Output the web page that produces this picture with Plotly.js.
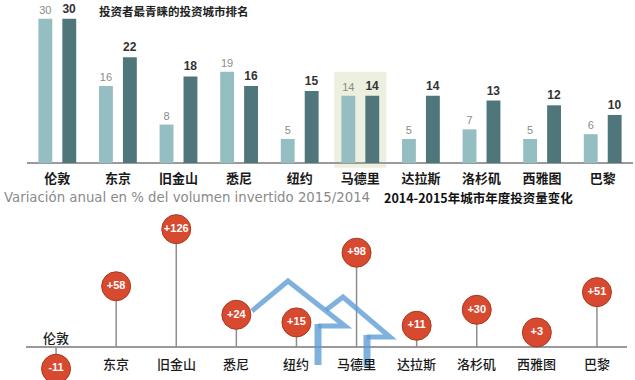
<!DOCTYPE html>
<html><head><meta charset="utf-8">
<script src="https://cdn.plot.ly/plotly-3.0.1.min.js"></script>
<style>html,body{margin:0;padding:0;background:#fff}#chart{width:635px;height:380px}</style>
</head><body><div id="chart"></div>
<script>
// ---- data ----
const cities = ['伦敦','东京','旧金山','悉尼','纽约','马德里','达拉斯','洛杉矶','西雅图','巴黎'];
const rank2014 = [30,16,8,19,5,14,5,7,5,6];
const rank2015 = [30,22,18,16,15,14,14,13,12,10];
const change = [-11,58,126,24,15,98,11,30,3,51];
const topTitle = '投资者最青睐的投资城市排名';
const subtitleEs = 'Variación anual en % del volumen invertido 2015/2014';
const subtitleZh = '2014-2015年城市年度投资量变化';
const highlightCity = '马德里';

// ---- helpers / styling ----
const W = 635, H = 380;
const px = v => v / W;
const py = v => 1 - v / H;
const circleLift = 14.6;  // lift of the circle beyond the stem end (axis units)
const cjk = '"Noto Sans CJK SC", "Noto Sans", sans-serif';
const latin = '"Liberation Sans", Arial, sans-serif';

const lifted = change.map(v => v + Math.sign(v) * circleLift);
const stemX = [], stemY = [];
cities.forEach((c, i) => { stemX.push(c, c, null); stemY.push(0, lifted[i], null); });
const changeText = change.map(v => (v > 0 ? '+' : '') + v);

const traces = [
  {type:'bar', x:cities, y:rank2014, xaxis:'x', yaxis:'y',
   marker:{color:'#95bec3'}, texttemplate:'%{y}', textposition:'outside',
   textfont:{family:latin, size:11, color:'#8a8a8a'}, cliponaxis:false, constraintext:'none', hoverinfo:'skip'},
  {type:'bar', x:cities, y:rank2015, xaxis:'x', yaxis:'y',
   marker:{color:'#4f767b'}, texttemplate:'%{y}', textposition:'outside',
   textfont:{family:latin, size:12, color:'#333', weight:'bold'}, cliponaxis:false, constraintext:'none', hoverinfo:'skip'},
  {type:'scatter', mode:'lines', x:stemX, y:stemY, xaxis:'x2', yaxis:'y2',
   line:{color:'#8e8e8e', width:1.5}, hoverinfo:'skip', cliponaxis:false},
  {type:'scatter', mode:'markers+text', x:cities, y:lifted, xaxis:'x2', yaxis:'y2',
   text:changeText, textposition:'middle center',
   textfont:{family:latin, size:11, color:'#ffffff', weight:'bold'},
   marker:{size:29, color:'#d84a30', line:{color:'#a8391f', width:1}}, cliponaxis:false, hoverinfo:'skip'}
];

const hi = cities.indexOf(highlightCity);
const arrowColor = 'rgba(91,155,213,0.78)';
const path = pts => pts.map((p, i) => (i ? 'L' : 'M') + px(p[0]) + ',' + py(p[1])).join(' ');

const layout = {
  width: W, height: H, margin:{l:0, r:0, t:0, b:0},
  paper_bgcolor:'#fff', plot_bgcolor:'rgba(0,0,0,0)', showlegend:false,
  barmode:'group', bargap:0.21, bargroupgap:0.42,
  xaxis:{domain:[px(27), px(633)], anchor:'y', type:'category', range:[-0.5, 9.5],
         showgrid:false, zeroline:false, showline:false, ticks:'',
         tickfont:{family:cjk, size:13, color:'#1a1a1a', weight:'bold'}},
  yaxis:{domain:[py(169), py(2)], anchor:'x', range:[-1.25, 33.5],
         showgrid:false, showticklabels:false, zeroline:true, zerolinecolor:'#9a9a9a', zerolinewidth:1.5},
  xaxis2:{domain:[px(26), px(627)], anchor:'y2', type:'category', range:[-0.5, 9.5],
          showgrid:false, zeroline:false, showline:false, showticklabels:false, ticks:''},
  yaxis2:{domain:[0, py(212)], anchor:'x2', range:[-39, 161],
          showgrid:false, showticklabels:false, zeroline:true, zerolinecolor:'#9a9a9a', zerolinewidth:1.5},
  shapes:[
    {type:'rect', xref:'x', yref:'y', x0:hi-0.43, x1:hi+0.43, y0:-1, y1:19,
     fillcolor:'#edefdf', line:{width:0}, layer:'below'},
    {type:'path', xref:'paper', yref:'paper', path:path([[252,311],[288,281],[345,326],[318,326]]),
     line:{color:arrowColor, width:5}},
    {type:'path', xref:'paper', yref:'paper', path:path([[318,324],[318,365]]),
     line:{color:arrowColor, width:7}},
    {type:'path', xref:'paper', yref:'paper', path:path([[326,310],[343,297],[390,337],[367,337]]),
     line:{color:arrowColor, width:5}},
    {type:'path', xref:'paper', yref:'paper', path:path([[367,335],[367,367]]),
     line:{color:arrowColor, width:7}}
  ],
  annotations:[
    {text:topTitle, xref:'paper', yref:'paper', x:px(97), y:py(1), xanchor:'left', yanchor:'top',
     showarrow:false, font:{family:cjk, size:11.5, color:'#222', weight:'bold'}},
    {text:subtitleEs, xref:'paper', yref:'paper', x:px(2), y:py(198), xanchor:'left', yanchor:'middle',
     showarrow:false, font:{family:'"DejaVu Sans", sans-serif', size:13.3, color:'#8a8a8a'}},
    {text:subtitleZh, xref:'paper', yref:'paper', x:px(382), y:py(198), xanchor:'left', yanchor:'middle',
     showarrow:false, font:{family:cjk, size:12.5, color:'#111', weight:'bold'}}
  ].concat(cities.map((c, i) => ({
     text:c, xref:'x2', yref:'y2', x:c, y:0, yanchor:'middle', xanchor:'center', showarrow:false,
     yshift: change[i] < 0 ? 10 : -16,
     font:{family:cjk, size:13, color:'#1a1a1a', weight:500}
  })))
};

Plotly.newPlot('chart', traces, layout, {staticPlot:true, displayModeBar:false});
</script>
</body></html>
